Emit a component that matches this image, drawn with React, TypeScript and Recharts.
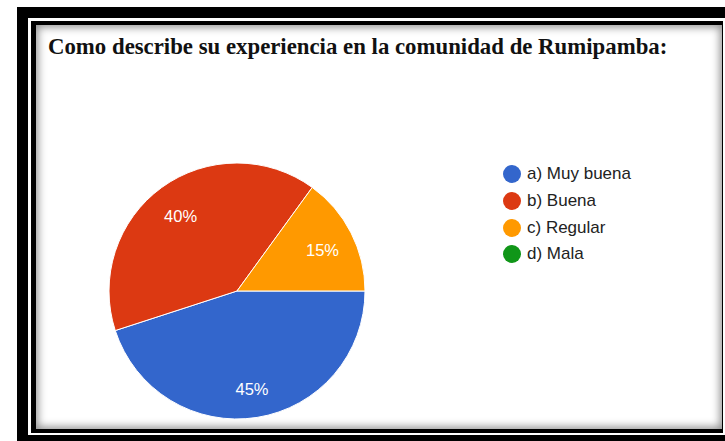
import { PieChart, Pie, Cell, Legend } from 'recharts';

const categories = ['a) Muy buena', 'b) Buena', 'c) Regular', 'd) Mala'];
const percentages = [45, 40, 15, 0];
const sliceColors = ['#3366CC', '#DC3912', '#FF9900', '#109618'];

const data = categories.map((name, i) => ({ name, value: percentages[i], color: sliceColors[i] }));

const RAD = Math.PI / 180;

const renderLabel = ({ cx, cy, midAngle, outerRadius, value }: any) => {
  if (!value) return null;
  const r = outerRadius * 0.75;
  const x = cx + r * Math.cos(-midAngle * RAD);
  const y = cy + r * Math.sin(-midAngle * RAD) + 3;
  return (
    <text x={x} y={y} fill="#ffffff" textAnchor="middle" dominantBaseline="central"
      style={{ fontFamily: 'Arial, "Liberation Sans", sans-serif', fontSize: 16.5 }}>
      {`${value}%`}
    </text>
  );
};

const renderLegend = () => (
  <div style={{ fontFamily: 'Arial, "Liberation Sans", sans-serif', fontSize: 17, color: '#222' }}>
    {data.map((d) => (
      <div key={d.name} style={{ display: 'flex', alignItems: 'center', height: 26.7 }}>
        <span style={{ width: 18, height: 18, borderRadius: 9, background: d.color, marginRight: 6, display: 'inline-block' }} />
        <span>{d.name}</span>
      </div>
    ))}
  </div>
);

export default function App() {
  return (
    <div style={{ position: 'absolute', left: 0, top: 0, width: 725, height: 441, background: '#fff', overflow: 'hidden' }}>
      {/* outer black frame */}
      <div style={{ position: 'absolute', left: 17, top: 7, width: 720, height: 440, background: '#000' }} />
      <div style={{ position: 'absolute', left: 28, top: 18, width: 720, height: 417, background: '#fff' }} />
      <div style={{ position: 'absolute', left: 31, top: 21, width: 692, height: 412, background: '#000' }} />
      {/* content panel with inset shade */}
      <div style={{ position: 'absolute', left: 36, top: 25, width: 686, height: 404, background: '#fff',
        boxShadow: 'inset 0 0 8px 2px rgba(0,0,0,0.45)' }} />
      <div style={{ position: 'absolute', left: 48, top: 34, fontFamily: '"Liberation Serif", "Times New Roman", serif',
        fontWeight: 'bold', fontSize: 22.8, color: '#111', whiteSpace: 'nowrap' }}>
        Como describe su experiencia en la comunidad de Rumipamba:
      </div>
      <div style={{ position: 'absolute', left: 0, top: 0 }}>
        <PieChart width={725} height={441} margin={{ top: 0, right: 0, bottom: 0, left: 0 }}>
          <Pie
            data={data}
            dataKey="value"
            nameKey="name"
            cx={237}
            cy={291}
            outerRadius={128}
            startAngle={0}
            endAngle={-360}
            stroke="#ffffff"
            strokeWidth={1}
            label={renderLabel}
            labelLine={false}
            isAnimationActive={false}
          >
            {data.map((d) => (
              <Cell key={d.name} fill={d.color} />
            ))}
          </Pie>
          <Legend content={renderLegend} layout="vertical" wrapperStyle={{ position: 'absolute', left: 503, top: 161, width: 190 }} />
        </PieChart>
      </div>
    </div>
  );
}
